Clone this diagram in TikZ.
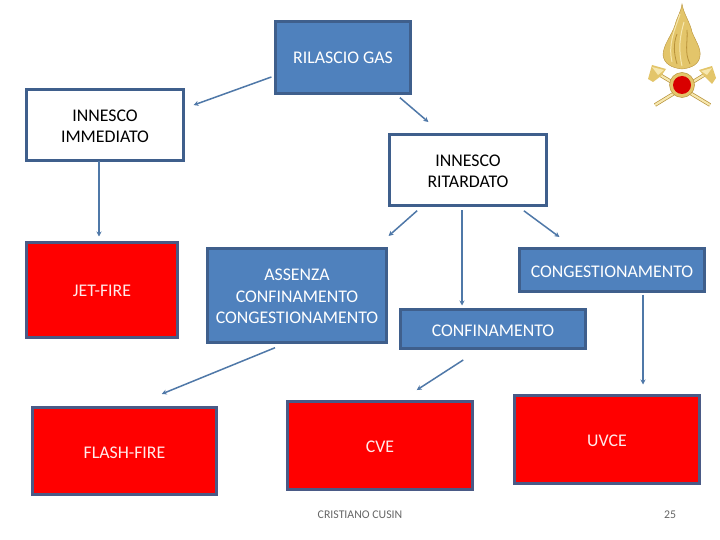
\documentclass[tikz,border=0pt]{standalone}
\usepackage{fontspec}
\setmainfont{Carlito}
\usetikzlibrary{arrows.meta}
\definecolor{bluefill}{HTML}{4F81BD}
\definecolor{boxedge}{HTML}{3F5F8C}
\definecolor{redge}{HTML}{4A5A86}
\definecolor{conncol}{HTML}{4F78A8}
\definecolor{gold}{HTML}{E3C56A}
\definecolor{golddark}{HTML}{B8923A}
\definecolor{goldlight}{HTML}{F6E7AE}
\tikzset{
  box/.style={draw=boxedge,line width=3pt,inner sep=0pt,outer sep=0pt,align=center,font=\fontsize{17.8}{21.7}\selectfont},
  lift/.style={execute at begin node={\rule{0pt}{#1}}},
  bluebox/.style={box,fill=bluefill,text=white},
  whitebox/.style={box,fill=white,text=black},
  redbox/.style={box,draw=redge,fill=red,text=white!92!red},
  conn/.style={draw=conncol,line width=1.5pt,-{Stealth[length=5pt,width=5pt]}},
  foot/.style={font=\fontsize{11.8}{13}\selectfont,text=black!60,inner sep=0pt}
}
\begin{document}
\begin{tikzpicture}[x=1pt,y=-1pt]
\useasboundingbox (0,0) rectangle (720,540);
\fill[white] (0,0) rectangle (720,540);
\node[bluebox,minimum width=135pt,minimum height=72pt] (gas) at (343,57.5) {RILASCIO GAS};
\node[whitebox,lift=36pt,minimum width=157pt,minimum height=71pt] (imm) at (105,125) {INNESCO\\IMMEDIATO};
\node[whitebox,lift=36pt,minimum width=157pt,minimum height=71pt] (rit) at (468,170) {INNESCO\\RITARDATO};
\node[redbox,lift=13pt,minimum width=151pt,minimum height=95pt] (jet) at (102,290) {JET-FIRE};
\node[bluebox,lift=56.6pt,minimum width=179pt,minimum height=94pt] (ass) at (297,295.5) {ASSENZA\\CONFINAMENTO\\CONGESTIONAMENTO};
\node[bluebox,lift=15pt,minimum width=185pt,minimum height=43pt] (cong) at (612,270) {CONGESTIONAMENTO};
\node[bluebox,lift=15pt,minimum width=185pt,minimum height=39pt] (conf) at (493,329) {CONFINAMENTO};
\node[redbox,lift=15pt,minimum width=184pt,minimum height=87pt] (flash) at (124.5,451) {FLASH-FIRE};
\node[redbox,lift=14pt,minimum width=185pt,minimum height=88pt] (cve) at (380,445.5) {CVE};
\node[redbox,lift=14pt,minimum width=185pt,minimum height=88pt] (uvce) at (607,439.5) {UVCE};
\node[foot] (author) at (360,515) {CRISTIANO CUSIN};
\node[foot] (page) at (670,515) {25};
\draw[conn,shorten <=4.3pt,shorten >=10.7pt] ([shift={(0,18)}]gas.west) -- ([shift={(0,-16.3)}]imm.east);
\draw[conn,shorten <=6.4pt,shorten >=19.2pt] ([shift={(52,0)}]gas.south) -- ([shift={(-25,0)}]rit.north);
\draw[conn,shorten <=1pt,shorten >=6pt] ([shift={(-6,0)}]imm.south) -- ([shift={(-3,0)}]jet.north);
\draw[conn,shorten <=7.8pt,shorten >=18.9pt] ([shift={(-45,0)}]rit.south) -- ([shift={(77.4,0)}]ass.north);
\draw[conn,shorten <=5pt,shorten >=4pt] ([shift={(-6,0)}]rit.south) -- ([shift={(-31,0)}]conf.north);
\draw[conn,shorten <=8.9pt,shorten >=19.4pt] ([shift={(48.7,0)}]rit.south) -- ([shift={(-37,0)}]cong.north);
\draw[conn,shorten <=13.8pt,shorten >=35.8pt] ([shift={(-9.2,0)}]ass.south) -- ([shift={(4.1,0)}]flash.north);
\draw[conn,shorten <=21.1pt,shorten >=21.1pt] ([shift={(-12,0)}]conf.south) -- ([shift={(19,0)}]cve.north);
\draw[conn,shorten <=3pt,shorten >=11pt] ([shift={(31,0)}]cong.south) -- ([shift={(36,0)}]uvce.north);
% emblem
\draw[golddark,line width=3.6pt] (655,105) -- (709,72);
\draw[golddark,line width=3.6pt] (710,105) -- (655,72);
\draw[goldlight,line width=2.2pt] (655,105) -- (709,72);
\draw[goldlight,line width=2.2pt] (710,105) -- (655,72);
\fill[gold] (648,79) -- (652,65) -- (666,69) -- (661,76) -- (653,82) -- cycle;
\fill[gold] (716,78) -- (712,66) -- (699,70) -- (704,76) -- (712,84) -- cycle;
\fill[goldlight] (652,67) -- (664,70) -- (658,75) -- cycle;
\fill[goldlight] (712,68) -- (701,71) -- (707,75) -- cycle;
\fill[gold,draw=golddark,line width=.4pt] (682,4) .. controls (684,15) and (690,22) .. (692,32)
  .. controls (696,42) and (701,48) .. (700,56) .. controls (699,64) and (692,68) .. (682,69)
  .. controls (672,68) and (664,64) .. (663,55) .. controls (663,45) and (672,35) .. (675,25)
  .. controls (677,17) and (681,12) .. (682,4) -- cycle;
\draw[goldlight,line width=1pt] (680,14) .. controls (674,32) and (668,44) .. (672,62);
\draw[goldlight,line width=1pt] (684,22) .. controls (680,36) and (678,48) .. (682,66);
\draw[golddark,line width=.8pt] (687,30) .. controls (688,42) and (684,52) .. (690,64);
\draw[golddark,line width=.8pt] (677,34) .. controls (673,44) and (674,54) .. (677,64);
\fill[gold,draw=golddark,line width=.5pt] (682,85) circle (12.5pt);
\fill[red!85!black] (682,85) circle (9pt);
\end{tikzpicture}
\end{document}
